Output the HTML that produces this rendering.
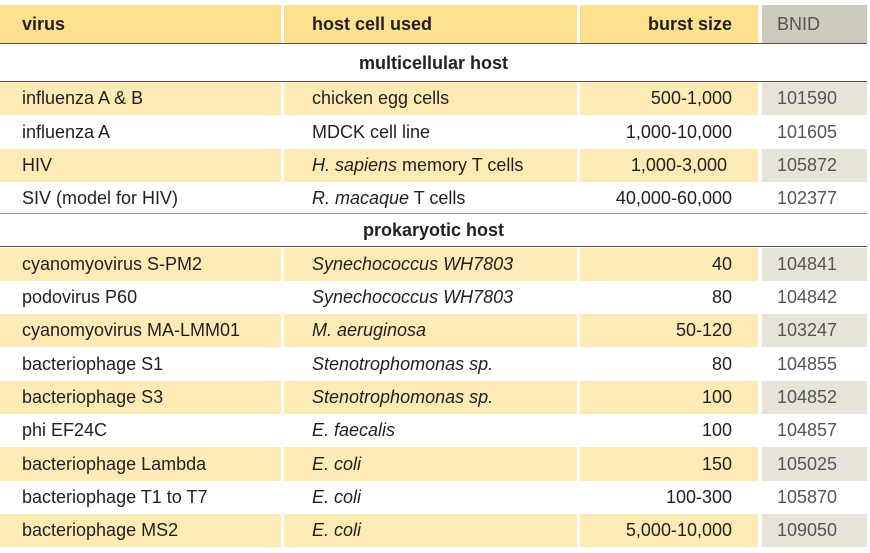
<!DOCTYPE html>
<html><head><meta charset="utf-8"><style>
body{margin:0;width:870px;height:553px;background:#fff;position:relative;overflow:hidden;font-family:"Liberation Sans",sans-serif;color:#231f20}
.c{position:absolute;box-sizing:border-box;font-size:18px;display:flex;align-items:center;white-space:nowrap}
.l{position:absolute;left:0;width:867px;height:1px}
i{font-style:italic}
</style></head><body>
<div id="t"></div>
<script>
var H='';
function cell(x,w,y,h,bg,txt,extra){H+='<div class="c" style="left:'+x+'px;width:'+w+'px;top:'+y+'px;height:'+h+'px;background:'+bg+';'+(extra||'')+'"><span>'+txt+'</span></div>';}
cell(0,281,5,38,'#fde08e','virus','padding-left:22px;font-weight:bold');
cell(284,293,5,38,'#fde08e','host cell used','padding-left:28px;font-weight:bold');
cell(580,178,5,38,'#fde08e','burst size','justify-content:flex-end;padding-right:26px;font-weight:bold');
cell(762,105,5,38,'#cdcbbd','BNID','padding-left:15px;color:#555');
H+='<div class="l" style="top:43px;background:#5a5048"></div>';
function sec(y,t){cell(0,867,y,33,'#fff',t,'justify-content:center;font-weight:bold');}
sec(47,'multicellular host');
H+='<div class="l" style="top:81px;background:#5a5048"></div>';
var r1=[['influenza A &amp; B','chicken egg cells','500-1,000','101590'],['influenza A','MDCK cell line','1,000-10,000','101605'],['HIV','<i>H. sapiens</i> memory T cells','1,000-3,000&nbsp;','105872'],['SIV (model for HIV)','<i>R. macaque</i> T cells','40,000-60,000','102377']];
var r2=[['cyanomyovirus S-PM2','<i>Synechococcus WH7803</i>','40','104841'],['podovirus P60','<i>Synechococcus WH7803</i>','80','104842'],['cyanomyovirus MA-LMM01','<i>M. aeruginosa</i>','50-120','103247'],['bacteriophage S1','<i>Stenotrophomonas sp.</i>','80','104855'],['bacteriophage S3','<i>Stenotrophomonas sp.</i>','100','104852'],['phi EF24C','<i>E. faecalis</i>','100','104857'],['bacteriophage Lambda','<i>E. coli</i>','150','105025'],['bacteriophage T1 to T7','<i>E. coli</i>','100-300','105870'],['bacteriophage MS2','<i>E. coli</i>','5,000-10,000','109050']];
function rows(arr,y0){arr.forEach(function(r,i){var y=Math.round(y0+i*33.33),h=Math.round(y0+(i+1)*33.33)-y;var sh=i%2==0;
cell(0,281,y,h,sh?'#fdebb5':'#fff',r[0],'padding-left:22px');
cell(284,293,y,h,sh?'#fdebb5':'#fff',r[1],'padding-left:28px');
cell(580,178,y,h,sh?'#fdebb5':'#fff',r[2],'justify-content:flex-end;padding-right:26px');
cell(762,105,y,h,sh?'#e6e4d8':'#fff',r[3],'padding-left:15px;color:#555');});}
rows(r1,82);
H+='<div class="l" style="top:213px;background:#999"></div>';
sec(214,'prokaryotic host');
H+='<div class="l" style="top:246px;background:#5a5048"></div>';
rows(r2,247.5);
document.getElementById('t').innerHTML=H;
</script>
</body></html>
